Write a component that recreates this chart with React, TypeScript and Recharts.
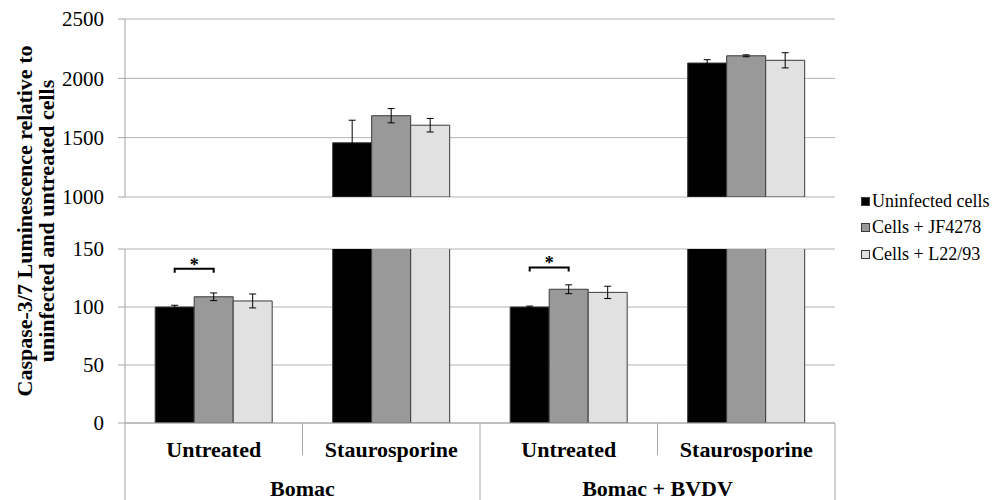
import React from "react"
import { BarChart, Bar, XAxis, YAxis, CartesianGrid, ErrorBar, LabelList } from "recharts"

const categories = ["Untreated", "Staurosporine", "Untreated", "Staurosporine"]
const groups = ["Bomac", "Bomac", "Bomac + BVDV", "Bomac + BVDV"]

const uninfected = [100, 1457, 100, 2129]
const uninfectedErr = [1.5, 190, 0.8, 28]
const jf4278 = [108.8, 1685, 115.3, 2190]
const jf4278Err = [3.3, 60, 3.8, 8]
const l2293 = [105.2, 1605, 112.6, 2152]
const l2293Err = [6, 57, 5.3, 64]

// significance bracket level (between uninfected and JF4278), null = none
const sigLevel = [133, null, 134, null]

const topTicks = [1000, 1500, 2000, 2500]
const bottomTicks = [0, 50, 100, 150]

const seriesNames = ["Uninfected cells", "Cells + JF4278", "Cells + L22/93"]
const seriesColors = ["#000000", "#999999", "#e1e1e1"]

const FONT = "Liberation Serif, Times New Roman, serif"
const GRID = "#b3b3b3"
const AXIS = "#a6a6a6"
const BAR_STROKE = "#3a3a3a"

const CHART_W = 992
const Y_AXIS_W = 125
const MARGIN_RIGHT = 157
const PLOT_W = CHART_W - Y_AXIS_W - MARGIN_RIGHT
const CAT_AXIS_H = 40
const GROUP_AXIS_H = 37

const rows = categories.map((cat, i) => ({
  cat,
  group: groups[i],
  u: uninfected[i],
  uErr: uninfectedErr[i],
  jf: jf4278[i],
  jfErr: jf4278Err[i],
  l: l2293[i],
  lErr: l2293Err[i],
}))

const topMin = topTicks[0]
const bottomMax = bottomTicks[bottomTicks.length - 1]

const topData = rows.map((r) => ({
  ...r,
  u: r.u >= topMin ? r.u : null,
  uErr: r.u >= topMin ? r.uErr : null,
  jf: r.jf >= topMin ? r.jf : null,
  jfErr: r.jf >= topMin ? r.jfErr : null,
  l: r.l >= topMin ? r.l : null,
  lErr: r.l >= topMin ? r.lErr : null,
}))

const bottomData = rows.map((r) => ({
  ...r,
  uErr: r.u <= bottomMax ? r.uErr : null,
  jfErr: r.jf <= bottomMax ? r.jfErr : null,
  lErr: r.l <= bottomMax ? r.lErr : null,
}))

const ValueTick = (props: any) => {
  const { x, y, payload } = props
  return (
    <text x={x} y={y} dy="0.35em" textAnchor="end" fontFamily={FONT} fontSize={21} fill="#000">
      {payload.value}
    </text>
  )
}

const CategoryTick = (props: any) => {
  const { x, y, payload, index } = props
  const band = PLOT_W / categories.length
  const left = x - band / 2
  return (
    <g>
      {index % 2 === 1 && <line x1={left} x2={left} y1={y} y2={y + 32} stroke={AXIS} />}
      <text x={x} y={y + 26} dy="0.35em" textAnchor="middle" fontFamily={FONT} fontSize={22} fontWeight="bold" fill="#000">
        {payload.value}
      </text>
    </g>
  )
}

const GroupTick = (props: any) => {
  const { x, y, payload, index, visibleTicksCount } = props
  const band = PLOT_W / 2
  const left = x - band / 2
  const right = x + band / 2
  return (
    <g>
      <line x1={left} x2={left} y1={y - CAT_AXIS_H} y2={y + GROUP_AXIS_H} stroke={AXIS} />
      {index === visibleTicksCount - 1 && (
        <line x1={right} x2={right} y1={y - CAT_AXIS_H} y2={y + GROUP_AXIS_H} stroke={AXIS} />
      )}
      <text x={x} y={y + 25} dy="0.35em" textAnchor="middle" fontFamily={FONT} fontSize={22} fontWeight="bold" fill="#000">
        {payload.value}
      </text>
    </g>
  )
}

// bracket + star drawn from the JF4278 bar geometry
const SigBracket = (props: any) => {
  const vb = props.viewBox || props
  const { x, y, width, height } = vb
  const index = props.index
  const level = sigLevel[index]
  if (level == null || !height) return null
  const pxPerUnit = height / jf4278[index]
  const base = y + height
  const yTop = base - level * pxPerUnit
  const yLeg = base - (level - 3.5) * pxPerUnit
  const yStar = base - (level + 7) * pxPerUnit
  const x1 = x - width / 2
  const x2 = x + width / 2
  return (
    <g>
      <path d={`M${x1},${yLeg} L${x1},${yTop} L${x2},${yTop} L${x2},${yLeg}`} fill="none" stroke="#000" strokeWidth={2} />
      <text x={(x1 + x2) / 2} y={yStar} dy="0.55em" textAnchor="middle" fontFamily={FONT} fontSize={18} fontWeight="bold" fill="#000">
        *
      </text>
    </g>
  )
}

const ChartLegend = () => (
  <div style={{ position: "absolute", left: 861, top: 188, fontFamily: FONT, fontSize: 18, color: "#000" }}>
    {seriesNames.map((name, i) => (
      <div key={name} style={{ display: "flex", alignItems: "center", height: 26.5, whiteSpace: "nowrap" }}>
        <span
          style={{
            display: "inline-block",
            width: 7,
            height: 7,
            background: seriesColors[i],
            border: `1px solid ${BAR_STROKE}`,
            marginRight: 2,
          }}
        />
        <span>{name}</span>
      </div>
    ))}
  </div>
)

const renderBars = (withSig: boolean) => [
  <Bar key="u" dataKey="u" name={seriesNames[0]} fill={seriesColors[0]} stroke={BAR_STROKE} strokeWidth={1} isAnimationActive={false}>
    <ErrorBar dataKey="uErr" width={3.5} stroke="#000" strokeWidth={1} direction="y" />
  </Bar>,
  <Bar key="jf" dataKey="jf" name={seriesNames[1]} fill={seriesColors[1]} stroke={BAR_STROKE} strokeWidth={1} isAnimationActive={false}>
    <ErrorBar dataKey="jfErr" width={3.5} stroke="#000" strokeWidth={1} direction="y" />
    {withSig && <LabelList dataKey="jf" content={SigBracket} />}
  </Bar>,
  <Bar key="l" dataKey="l" name={seriesNames[2]} fill={seriesColors[2]} stroke={BAR_STROKE} strokeWidth={1} isAnimationActive={false}>
    <ErrorBar dataKey="lErr" width={3.5} stroke="#000" strokeWidth={1} direction="y" />
  </Bar>,
]

export default function App() {
  return (
    <div style={{ position: "absolute", left: 0, top: 0, width: 992, height: 500, background: "#fff", fontFamily: FONT }}>
      <div style={{ position: "absolute", left: 0, top: 0 }}>
        <BarChart
          width={CHART_W}
          height={215}
          data={topData}
          margin={{ top: 19, right: MARGIN_RIGHT, bottom: 18, left: 0 }}
          barCategoryGap="17%"
          barGap={0}
        >
          <CartesianGrid vertical={false} stroke={GRID} />
          <XAxis dataKey="cat" hide />
          <YAxis
            width={Y_AXIS_W}
            domain={[topTicks[0], topTicks[topTicks.length - 1]]}
            ticks={topTicks}
            interval={0}
            allowDataOverflow
            tick={<ValueTick />}
            tickSize={7}
            tickMargin={14}
            stroke={AXIS}
          />
          {renderBars(false)}
        </BarChart>
      </div>
      <div style={{ position: "absolute", left: 0, top: 200 }}>
        <BarChart
          width={CHART_W}
          height={300}
          data={bottomData}
          margin={{ top: 49, right: MARGIN_RIGHT, bottom: 0, left: 0 }}
          barCategoryGap="17%"
          barGap={0}
        >
          <CartesianGrid vertical={false} stroke={GRID} />
          <XAxis
            dataKey="cat"
            height={CAT_AXIS_H}
            tickLine={false}
            tickSize={0}
            tickMargin={0}
            stroke={AXIS}
            tick={<CategoryTick />}
            interval={0}
          />
          <XAxis
            xAxisId="group"
            dataKey="group"
            allowDuplicatedCategory={false}
            height={GROUP_AXIS_H}
            axisLine={false}
            tickLine={false}
            tickSize={0}
            tickMargin={0}
            tick={<GroupTick />}
            interval={0}
          />
          <YAxis
            width={Y_AXIS_W}
            domain={[bottomTicks[0], bottomMax]}
            ticks={bottomTicks}
            interval={0}
            allowDataOverflow
            tick={<ValueTick />}
            tickSize={7}
            tickMargin={14}
            stroke={AXIS}
          />
          {renderBars(true)}
        </BarChart>
      </div>
      <ChartLegend />
      <svg width={60} height={500} style={{ position: "absolute", left: 0, top: 0 }}>
        <text
          transform="translate(24,221) rotate(-90)"
          textAnchor="middle"
          dominantBaseline="central"
          fontFamily={FONT}
          fontSize={22}
          fontWeight="bold"
          fill="#000"
        >
          Caspase-3/7 Luminescence relative to
        </text>
        <text
          transform="translate(46,221) rotate(-90)"
          textAnchor="middle"
          dominantBaseline="central"
          fontFamily={FONT}
          fontSize={22}
          fontWeight="bold"
          fill="#000"
        >
          uninfected and untreated cells
        </text>
      </svg>
    </div>
  )
}
